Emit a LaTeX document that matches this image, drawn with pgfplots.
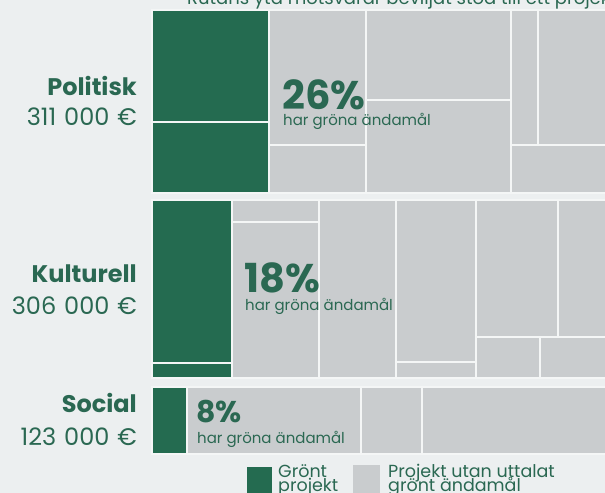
\documentclass[border=0pt]{standalone}
\usepackage{fontspec}
\setmainfont{Poppins}
\usepackage{xcolor}
\usepackage{pgfplots}
\pgfplotsset{compat=1.18}
\definecolor{grn}{RGB}{36,107,80}
\definecolor{ink}{RGB}{42,104,82}
\definecolor{cellg}{RGB}{201,204,206}
\definecolor{bgc}{RGB}{236,239,240}
\definecolor{gap}{RGB}{244,246,246}

% one treemap cell, corners in pixel units of the picture
\newcommand{\cell}[5]{%
  \addplot[fill=#5,draw=gap,line width=1.4bp] coordinates
    {(#1,#2) (#3,#2) (#3,#4) (#1,#4)} -- cycle;}
\newcommand{\fs}[1]{\fontsize{#1bp}{#1bp}\selectfont}
\newcommand{\gsp}{\hspace{0.33em}}

\begin{document}
\begin{tikzpicture}
\begin{axis}[name=ax,width=605bp,height=493bp,scale only axis,
  xmin=0,xmax=605,ymin=0,ymax=493,y dir=reverse,
  axis line style={draw=none},ticks=none,clip=false,
  axis background/.style={fill=bgc}]
% Politisk
\cell{152}{10}{269}{122}{grn}
\cell{152}{122}{269}{193}{grn}
\cell{269}{10}{366}{145}{cellg}
\cell{269}{145}{366}{193}{cellg}
\cell{366}{10}{511}{100}{cellg}
\cell{366}{100}{511}{193}{cellg}
\cell{511}{10}{538}{145}{cellg}
\cell{538}{10}{608}{145}{cellg}
\cell{511}{145}{608}{193}{cellg}
% Kulturell
\cell{152}{200}{232}{363}{grn}
\cell{152}{363}{232}{378}{grn}
\cell{232}{200}{319}{222}{cellg}
\cell{232}{222}{319}{378}{cellg}
\cell{319}{200}{396}{378}{cellg}
\cell{396}{200}{476}{362}{cellg}
\cell{396}{362}{476}{378}{cellg}
\cell{476}{200}{558}{337}{cellg}
\cell{558}{200}{608}{337}{cellg}
\cell{476}{337}{540}{378}{cellg}
\cell{540}{337}{608}{378}{cellg}
% Social
\cell{152}{387}{187}{454}{grn}
\cell{187}{387}{361}{454}{cellg}
\cell{361}{387}{422}{454}{cellg}
\cell{422}{387}{608}{454}{cellg}
% legend keys
\addplot[fill=grn,draw=none] coordinates {(247,467) (272,467) (272,496) (247,496)} -- cycle;
\addplot[fill=cellg,draw=none] coordinates {(353,465) (380,465) (380,496) (353,496)} -- cycle;

% title (cut at the top edge, as in the source)
\node[anchor=base west,text=ink,inner sep=0pt,font=\fs{18}]
  at (axis cs:187,5) {Rutans yta motsvarar beviljat stöd till ett projekt};

% row labels
\begin{scope}[every node/.style={anchor=base east,text=ink,inner sep=0pt}]
\node[font=\fs{24}\bfseries] at (axis cs:137,95) {Politisk};
\node[font=\fs{24}] at (axis cs:137,125) {311\gsp000\gsp€};
\node[font=\fs{24}\bfseries] at (axis cs:137,282) {Kulturell};
\node[font=\fs{24}] at (axis cs:137,314) {306\gsp000\gsp€};
\node[font=\fs{24}\bfseries] at (axis cs:137,412) {Social};
\node[font=\fs{24}] at (axis cs:137,445) {123\gsp000\gsp€};
\end{scope}

% shares
\begin{scope}[every node/.style={anchor=base west,text=ink,inner sep=0pt}]
\node[font=\fs{40}\bfseries] at (axis cs:282,109) {26\%};
\node[font=\fs{15}] at (axis cs:283,125) {har gröna ändamål};
\node[font=\fs{40}\bfseries] at (axis cs:244,292) {18\%};
\node[font=\fs{15}] at (axis cs:245,310) {har gröna ändamål};
\node[font=\fs{30}\bfseries] at (axis cs:196,422) {8\%};
\node[font=\fs{15}] at (axis cs:197,443) {har gröna ändamål};
% legend text
\node[font=\fs{17.5}] at (axis cs:278,477) {Grönt};
\node[font=\fs{17.5}] at (axis cs:278,491) {projekt};
\node[font=\fs{17.5}] at (axis cs:388,477) {Projekt utan uttalat};
\node[font=\fs{17.5}] at (axis cs:388,491) {grönt ändamål};
\end{scope}
\end{axis}
\pgfresetboundingbox
\useasboundingbox (ax.south west) rectangle (ax.north east);
\end{tikzpicture}
\end{document}
